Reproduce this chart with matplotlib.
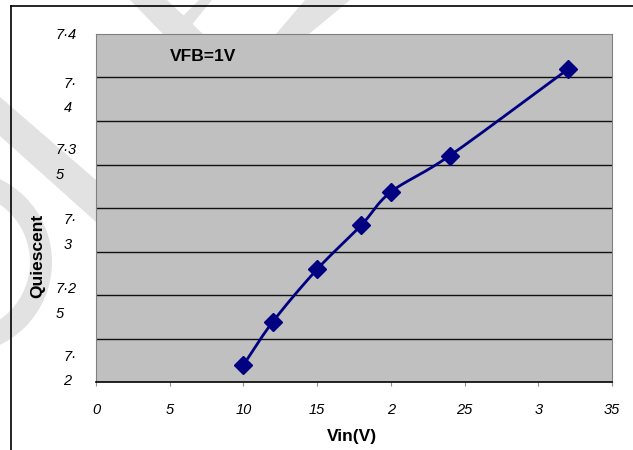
import numpy as np
import matplotlib
matplotlib.use("Agg")
import matplotlib.pyplot as plt
from matplotlib.patches import Polygon, Wedge
from matplotlib.lines import Line2D
from matplotlib.transforms import Affine2D

vin = [10, 12, 15, 18, 20, 24, 32]
quiescent = [7.2098, 7.2347, 7.2648, 7.2902, 7.3092, 7.3301, 7.3797]

xtick_vals = [0, 5, 10, 15, 20, 25, 30, 35]
xtick_labels = ['0', '5', '10', '15', '2', '25', '3', '35']
ytick_vals = [7.3994, 7.3644, 7.3261, 7.2859, 7.2463, 7.2075]
ytick_labels = ['7·4', '7·\n4', '7·3\n5', '7·\n3', '7·2\n5', '7·\n2']
grid_vals = np.arange(7.2, 7.4001, 0.025)


def smooth(x, y, n=30):
    # catmull-rom, roughly what excel does for smoothed lines
    x = np.asarray(x, float)
    y = np.asarray(y, float)
    px = np.concatenate([[2 * x[0] - x[1]], x, [2 * x[-1] - x[-2]]])
    py = np.concatenate([[2 * y[0] - y[1]], y, [2 * y[-1] - y[-2]]])
    xs, ys = [], []
    t = np.linspace(0, 1, n)
    for i in range(1, len(px) - 2):
        for p, out in ((px, xs), (py, ys)):
            p0, p1, p2, p3 = p[i - 1], p[i], p[i + 1], p[i + 2]
            out.extend(0.5 * (2 * p1 + (-p0 + p2) * t
                              + (2 * p0 - 5 * p1 + 4 * p2 - p3) * t ** 2
                              + (-p0 + 3 * p1 - 3 * p2 + p3) * t ** 3))
    return xs, ys


W, H = 633, 450
fig = plt.figure(figsize=(W / 100, H / 100), dpi=100)
fig.patch.set_facecolor('white')

# watermark in the background, pixel coords (y down) -> figure
px_tr = Affine2D().scale(1 / W, -1 / H).translate(0, 1) + fig.transFigure
wm = '#e2e2e2'
for pts in ([(0, 97), (96, 180), (96, 222), (0, 136)],
            [(130, 0), (167, 0), (203, 34), (163, 34)],
            [(183, 16), (199, 0), (212, 0), (190, 27)],
            [(305, 0), (350, 0), (309, 34), (276, 34)]):
    fig.patches.append(Polygon(pts, closed=True, transform=px_tr, fc=wm, ec='none', zorder=-5))
fig.patches.append(Wedge((-40, 262), 92, -90, 90, width=22, transform=px_tr, fc=wm, ec='none', zorder=-5))

# frame
fig.add_artist(Line2D([11 / W, 1], [1 - 6 / H, 1 - 6 / H], color='black', lw=1.2))
fig.add_artist(Line2D([11 / W, 11 / W], [0, 1 - 6 / H], color='black', lw=1.2))

ax = fig.add_axes([96 / W, 68 / H, 516 / W, 348 / H])
ax.set_facecolor('#c0c0c0')
ax.set_xlim(0, 35)
ax.set_ylim(7.2, 7.4)

for g in grid_vals[1:-1]:
    ax.axhline(g, color='#101010', lw=1, zorder=1)

sx, sy = smooth(vin, quiescent)
ax.plot(sx, sy, color='#000080', lw=2, zorder=3)
ax.plot(vin, quiescent, linestyle='none', marker='D', ms=9, color='#000080', zorder=4)

tick_font = dict(family='Liberation Sans', style='italic', size=10.5)
ax.set_xticks(xtick_vals)
ax.set_xticklabels(xtick_labels, **tick_font)
ax.set_yticks(ytick_vals)
ax.set_yticklabels(ytick_labels, multialignment='left', linespacing=1.95, va='center', **tick_font)
ax.tick_params(axis='x', length=3, color='#909090', pad=12)
ax.tick_params(axis='y', length=0, pad=14)

for s in ('left', 'top', 'right'):
    ax.spines[s].set_color('#808080')
ax.spines['bottom'].set_color('black')
ax.spines['bottom'].set_linewidth(1.2)

ax.set_xlabel('Vin(V)', family='Liberation Sans', weight='bold', size=12.5)
ax.xaxis.set_label_coords(0.496, -0.134)
ax.set_ylabel('Quiescent', family='Liberation Sans', weight='bold', size=12.5, va='center')
ax.yaxis.set_label_coords(-0.1124, 0.362)

ax.text(0.1434, 0.934, 'VFB=1V', transform=ax.transAxes, family='Liberation Sans',
        weight='bold', size=12.5, ha='left', va='center')

fig.savefig('out.png', dpi=100)
